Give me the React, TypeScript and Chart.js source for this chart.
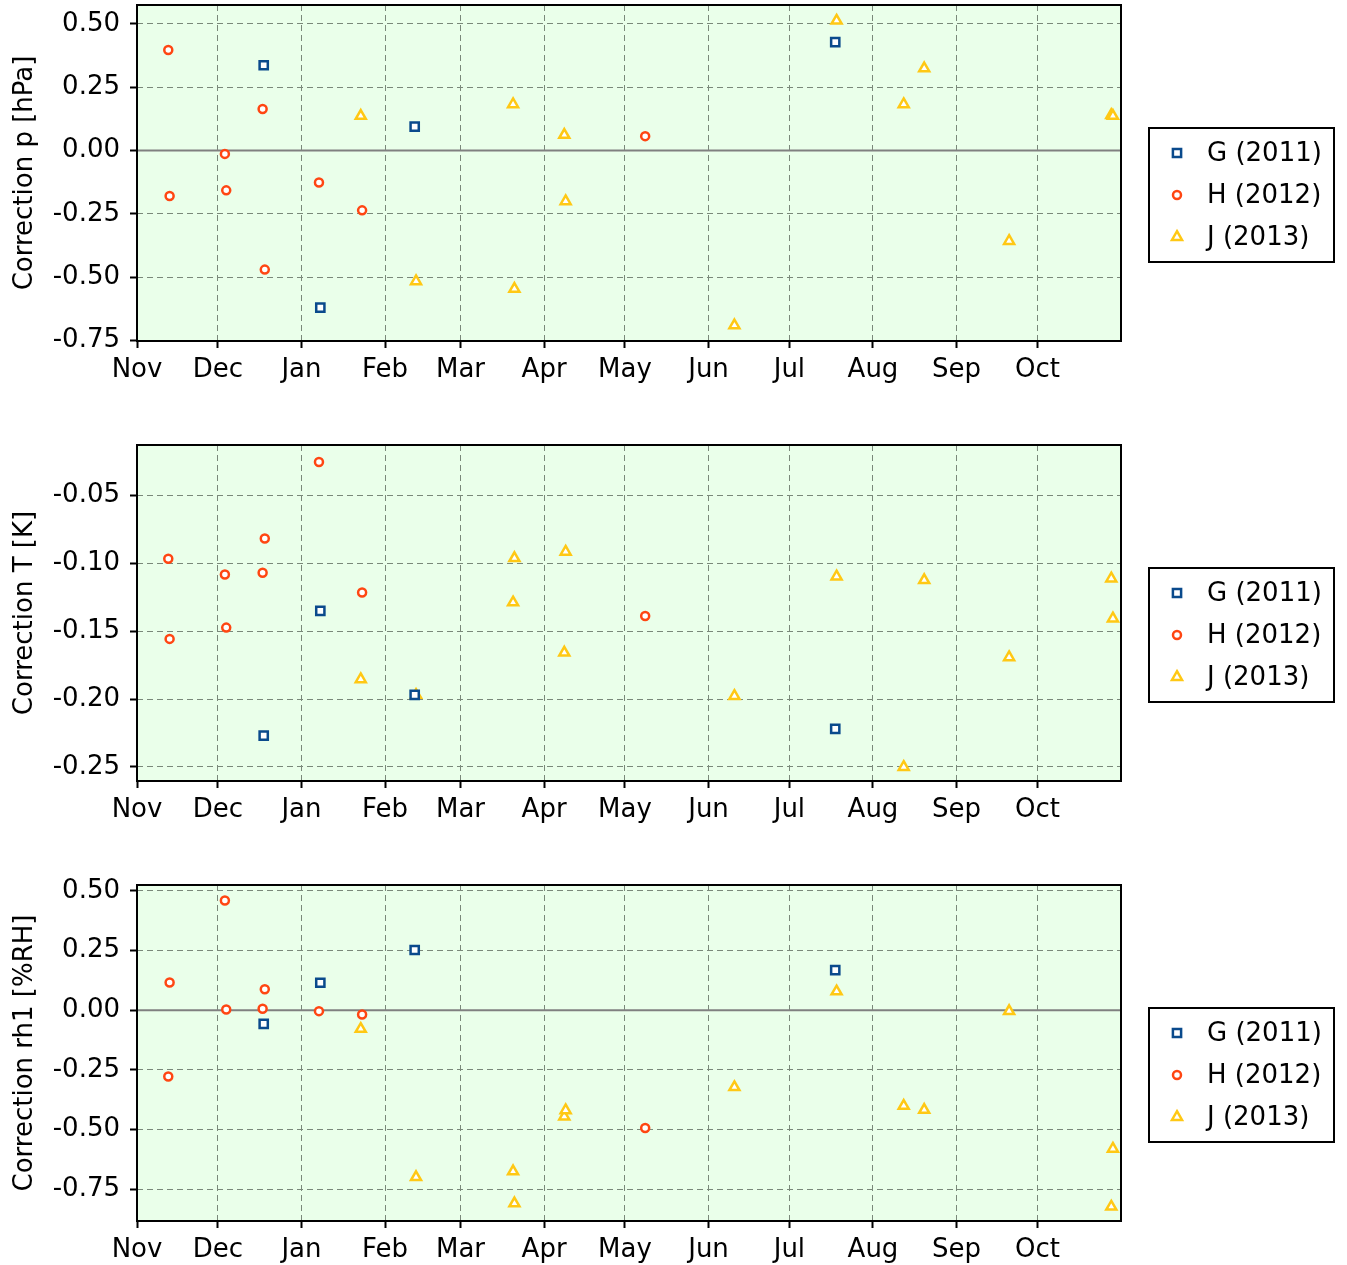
import React, { useEffect, useRef } from 'react';
import { Chart, registerables } from 'chart.js';

Chart.register(...registerables);

// ---------------- data ----------------
// x values are days since 1 November
const monthTickDays = [0, 30, 61, 92, 120, 151, 181, 212, 242, 273, 304, 334];
const monthLabels = ['Nov', 'Dec', 'Jan', 'Feb', 'Mar', 'Apr', 'May', 'Jun', 'Jul', 'Aug', 'Sep', 'Oct'];

const seriesNames = ['G (2011)', 'H (2012)', 'J (2013)'];

const gDays = [47, 68, 103, 259];
const hDays = [11.6, 12.1, 32.6, 33.1, 46.6, 47.4, 67.5, 83.5, 188.5];
const jDays = [83, 103.5, 139.5, 140, 158.5, 159, 221.6, 259.5, 284.4, 292, 323.5, 361.4, 362];

// Correction p [hPa]
const gPressure = [0.337, -0.62, 0.095, 0.428];
const hPressure = [0.397, -0.179, -0.013, -0.157, 0.164, -0.47, -0.126, -0.236, 0.057];
const jPressure = [0.137, -0.516, 0.183, -0.546, 0.062, -0.2, -0.69, 0.513, 0.183, 0.325, -0.357, 0.14, 0.137];

// Correction T [K]
const gTemp = [-0.227, -0.1352, -0.197, -0.222];
const hTemp = [-0.0969, -0.1558, -0.1084, -0.1475, -0.1072, -0.0819, -0.0257, -0.1217, -0.1389];
const jTemp = [-0.1855, -0.197, -0.129, -0.0964, -0.1659, -0.0917, -0.1978, -0.1099, -0.25, -0.1126, -0.1693, -0.1114, -0.1408];

// Correction rh1 [%RH]
const gHum = [-0.0575, 0.115, 0.2525, 0.168];
const hHum = [-0.278, 0.116, 0.46, 0.003, 0.006, 0.088, -0.004, -0.018, -0.494];
const jHum = [-0.0786, -0.7, -0.676, -0.81, -0.446, -0.4195, -0.323, 0.0786, -0.401, -0.418, -0.004, -0.824, -0.581];

const pTicks = [-0.75, -0.5, -0.25, 0, 0.25, 0.5];
const tTicks = [-0.25, -0.2, -0.15, -0.1, -0.05];
const rhTicks = [-0.75, -0.5, -0.25, 0, 0.25, 0.5];

// ---------------- styles ----------------
const WIDTH = 1347;
const FONT = 'DejaVu Sans';
const FONT_SIZE = 26;
const PLOT_LEFT = 137;
const PLOT_RIGHT = 1121;
const PLOT_HEIGHT = 336;
const BG = '#eaffea';
const GRID = '#7a887a';
const MARKER_WIDTH = 2.5;

const STYLES = [
  { color: '#0a4a8c', pointStyle: 'rect', radius: 5.8 },
  { color: '#ff4612', pointStyle: 'circle', radius: 4 },
  { color: '#ffc814', pointStyle: 'triangle', radius: 5.8 },
];

function drawMarker(ctx: CanvasRenderingContext2D, kind: string, x: number, y: number, r: number) {
  ctx.beginPath();
  if (kind === 'rect') {
    const s = Math.SQRT1_2 * r;
    ctx.rect(x - s, y - s, 2 * s, 2 * s);
  } else if (kind === 'circle') {
    ctx.arc(x, y, r, 0, Math.PI * 2);
  } else {
    for (let k = 0; k < 3; k++) {
      const a = (k * 2 * Math.PI) / 3;
      const px = x + Math.sin(a) * r;
      const py = y - Math.cos(a) * r;
      if (k === 0) ctx.moveTo(px, py);
      else ctx.lineTo(px, py);
    }
    ctx.closePath();
  }
  ctx.fill();
  ctx.stroke();
}

const decorPlugin = {
  id: 'decor',
  beforeDraw(chart: any) {
    const { ctx, chartArea: a } = chart;
    ctx.save();
    ctx.fillStyle = BG;
    ctx.fillRect(a.left, a.top, a.right - a.left, a.bottom - a.top);
    ctx.restore();
  },
  beforeDatasetsDraw(chart: any) {
    const { ctx, chartArea: a } = chart;
    const ys = chart.scales.y;
    if (ys.min < 0 && ys.max > 0) {
      const y0 = ys.getPixelForValue(0);
      ctx.save();
      ctx.strokeStyle = '#808080';
      ctx.lineWidth = 2;
      ctx.beginPath();
      ctx.moveTo(a.left, y0);
      ctx.lineTo(a.right, y0);
      ctx.stroke();
      ctx.restore();
    }
  },
  afterDraw(chart: any) {
    const { ctx, chartArea: a } = chart;
    ctx.save();
    ctx.strokeStyle = '#000';
    ctx.lineWidth = 2;
    ctx.strokeRect(a.left, a.top, a.right - a.left, a.bottom - a.top);

    // legend
    const bx = a.right + 28;
    const by = a.top + 123;
    const bw = 185;
    const bh = 134;
    ctx.fillStyle = '#ffffff';
    ctx.fillRect(bx, by, bw, bh);
    ctx.strokeRect(bx, by, bw, bh);
    ctx.font = `${FONT_SIZE}px "${FONT}"`;
    ctx.textBaseline = 'middle';
    ctx.textAlign = 'left';
    seriesNames.forEach((name, k) => {
      const cy = by + 25 + k * 42;
      ctx.lineWidth = MARKER_WIDTH;
      ctx.strokeStyle = STYLES[k].color;
      ctx.fillStyle = '#ffffff';
      drawMarker(ctx, STYLES[k].pointStyle, bx + 28, cy, STYLES[k].radius);
      ctx.fillStyle = '#000';
      ctx.fillText(name, bx + 58, cy + 1);
    });
    ctx.restore();
  },
};

type PanelProps = {
  top: number;
  height: number;
  plotTop: number;
  yTitle: string;
  yMin: number;
  yMax: number;
  yTicks: number[];
  values: number[][];
};

function Panel({ top, height, plotTop, yTitle, yMin, yMax, yTicks, values }: PanelProps) {
  const ref = useRef<HTMLCanvasElement>(null);
  useEffect(() => {
    const canvas = ref.current!;
    const days = [gDays, hDays, jDays];
    const datasets = values.map((vals, k) => ({
      label: seriesNames[k],
      data: vals.map((v, i) => ({ x: days[k][i], y: v })),
      pointStyle: STYLES[k].pointStyle,
      pointRadius: STYLES[k].radius,
      pointHoverRadius: STYLES[k].radius,
      pointBorderWidth: MARKER_WIDTH,
      borderColor: STYLES[k].color,
      backgroundColor: '#ffffff',
      pointBorderColor: STYLES[k].color,
      pointBackgroundColor: '#ffffff',
      showLine: false,
      clip: false,
    }));
    const plotBottom = plotTop + PLOT_HEIGHT;
    const chart = new Chart(canvas, {
      type: 'scatter',
      data: { datasets },
      options: {
        responsive: false,
        animation: false,
        devicePixelRatio: 1,
        events: [],
        layout: {
          autoPadding: false,
          padding: { left: 0, right: WIDTH - PLOT_RIGHT, top: plotTop, bottom: 0 },
        },
        plugins: { legend: { display: false }, tooltip: { enabled: false } },
        scales: {
          x: {
            type: 'linear',
            min: 0,
            max: 365,
            afterBuildTicks: (axis: any) => {
              axis.ticks = monthTickDays.map((v) => ({ value: v }));
            },
            afterFit: (axis: any) => {
              axis.height = height - plotBottom;
              axis.paddingLeft = 0;
              axis.paddingRight = 0;
            },
            ticks: {
              autoSkip: false,
              maxRotation: 0,
              padding: 7,
              color: '#000',
              font: { family: FONT, size: FONT_SIZE },
              callback: (v: any) => monthLabels[monthTickDays.indexOf(Number(v))] ?? '',
            },
            grid: {
              color: GRID,
              lineWidth: 1,
              tickColor: '#000',
              tickLength: 7,
              tickWidth: 2,
              tickBorderDash: [],
            },
            border: { display: false, dash: [6, 4] },
          },
          y: {
            type: 'linear',
            min: yMin,
            max: yMax,
            afterBuildTicks: (axis: any) => {
              axis.ticks = yTicks.map((v) => ({ value: v }));
            },
            afterFit: (axis: any) => {
              axis.width = PLOT_LEFT;
              axis.paddingTop = 0;
              axis.paddingBottom = 0;
            },
            ticks: {
              padding: 10,
              color: '#000',
              font: { family: FONT, size: FONT_SIZE },
              callback: (v: any) => Number(v).toFixed(2),
            },
            grid: {
              color: GRID,
              lineWidth: 1,
              tickColor: '#000',
              tickLength: 7,
              tickWidth: 2,
              tickBorderDash: [],
            },
            border: { display: false, dash: [6, 4] },
            title: {
              display: true,
              text: yTitle,
              color: '#000',
              font: { family: FONT, size: FONT_SIZE },
              padding: { top: 10, bottom: 0 },
            },
          },
        },
      },
      plugins: [decorPlugin],
    } as any);
    return () => chart.destroy();
  }, []);
  return (
    <canvas
      ref={ref}
      width={WIDTH}
      height={height}
      style={{ position: 'absolute', left: 0, top, width: WIDTH, height, display: 'block' }}
    />
  );
}

export default function App() {
  return (
    <div style={{ position: 'absolute', left: 0, top: 0, width: WIDTH, height: 1265, background: '#fff', overflow: 'hidden' }}>
      <Panel
        top={0}
        height={420}
        plotTop={5}
        yTitle="Correction p [hPa]"
        yMin={-0.752}
        yMax={0.575}
        yTicks={pTicks}
        values={[gPressure, hPressure, jPressure]}
      />
      <Panel
        top={420}
        height={440}
        plotTop={25}
        yTitle="Correction T [K]"
        yMin={-0.2603}
        yMax={-0.0132}
        yTicks={tTicks}
        values={[gTemp, hTemp, jTemp]}
      />
      <Panel
        top={860}
        height={405}
        plotTop={25}
        yTitle="Correction rh1 [%RH]"
        yMin={-0.884}
        yMax={0.525}
        yTicks={rhTicks}
        values={[gHum, hHum, jHum]}
      />
    </div>
  );
}
